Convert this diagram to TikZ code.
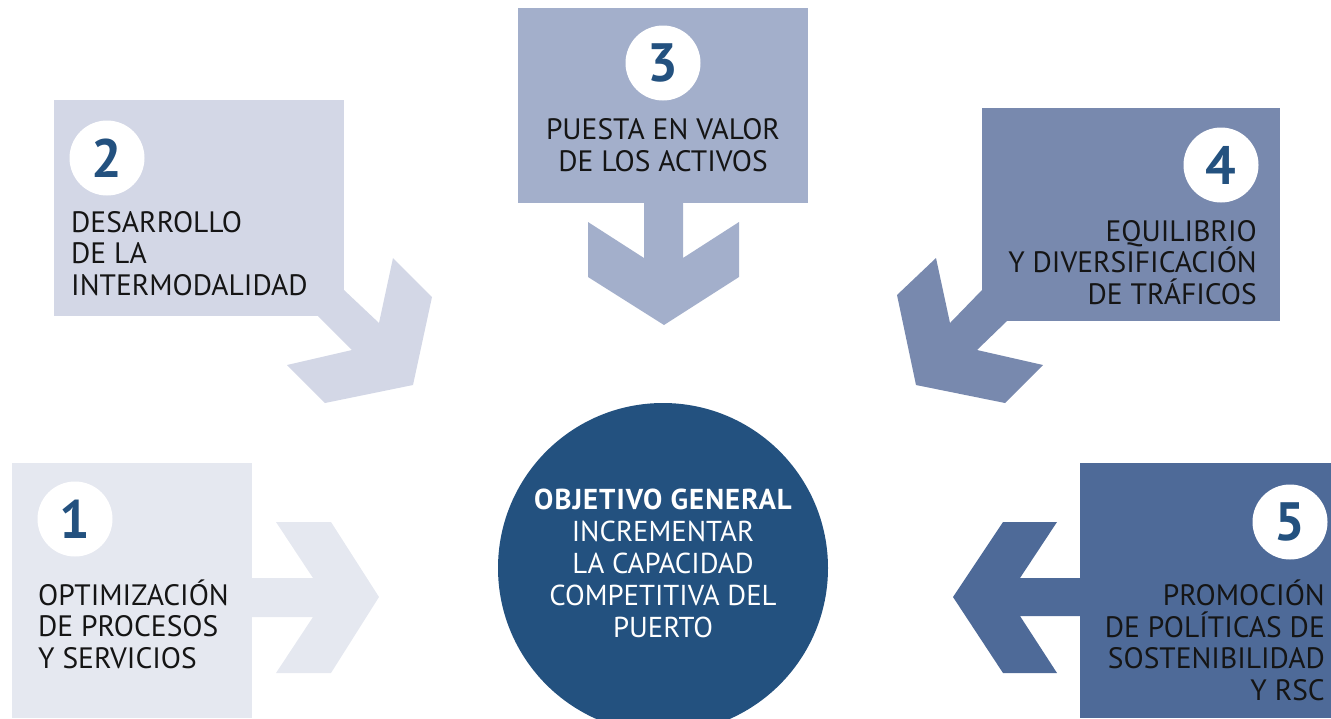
\documentclass[tikz,border=0pt]{standalone}
\usepackage{fontspec}
\setmainfont{PT Sans}
\definecolor{tone1}{HTML}{E5E8F0}
\definecolor{tone2}{HTML}{D3D7E6}
\definecolor{tone3}{HTML}{A3AFCB}
\definecolor{tone4}{HTML}{7889AE}
\definecolor{tone5}{HTML}{4E6A98}
\definecolor{hubblue}{HTML}{23517F}
\definecolor{ink}{HTML}{151515}
\tikzset{
  panel/.style={anchor=north west, inner sep=0pt, outer sep=0pt},
  badge/.style={circle, fill=white, minimum size=75pt, inner sep=0pt,
    text=hubblue, font=\bfseries\fontsize{54}{54}\selectfont},
  label/.style={inner sep=0pt, text=ink, font=\fontsize{29.5}{31.5}\selectfont}
}

\begin{document}
\begin{tikzpicture}[x=1pt, y=-1pt]
  \useasboundingbox (0,0) rectangle (1331,718);
  \clip (0,0) rectangle (1331,718);
  % panels
  \node[panel, fill=tone1, minimum width=240pt, minimum height=255pt] (p1) at (12,463) {};
  \node[panel, fill=tone2, minimum width=290pt, minimum height=216pt] (p2) at (54,100) {};
  \node[panel, fill=tone3, minimum width=290pt, minimum height=195pt] (p3) at (518,8) {};
  \node[panel, fill=tone4, minimum width=298pt, minimum height=213pt] (p4) at (982,108) {};
  \node[panel, fill=tone5, minimum width=251pt, minimum height=255pt] (p5) at (1080,463) {};
  % arrows
  \fill[tone1] (252,578) -- (313,578) -- (276,522) -- (331,522) -- (379,597)
    -- (331,673) -- (276,673) -- (313,617) -- (252,617) -- cycle;
  \fill[tone2] (344,290) -- (379,323) -- (393,258) -- (432,297) -- (413,385)
    -- (325,403) -- (287,365) -- (352,350) -- (318,316) -- (344,316) -- cycle;
  \fill[tone3] (644,203) -- (644,258) -- (588,222) -- (588,277) -- (664,325)
    -- (739,277) -- (739,222) -- (683,258) -- (683,203) -- cycle;
  \fill[tone4] (982,290) -- (950,323) -- (936,258) -- (897,295) -- (916,385)
    -- (1005,403) -- (1043,365) -- (977,350) -- (1007,321) -- (982,321) -- cycle;
  \fill[tone5] (1080,578) -- (1020,578) -- (1057,522) -- (1003,522) -- (953,597)
    -- (1003,673) -- (1057,673) -- (1020,616) -- (1080,616) -- cycle;
  % numbers
  \node[badge] (n1) at (75,519) {1};
  \node[badge] (n2) at (107,158) {2};
  \node[badge] (n3) at (663,63) {3};
  \node[badge] (n4) at (1221,165) {4};
  \node[badge] (n5) at (1290,522) {5};
  % texts (base = last line)
  \node[label, anchor=base west, align=left] (t1) at (38,668)
    {OPTIMIZACIÓN\\DE PROCESOS\\Y SERVICIOS};
  \node[label, anchor=base west, align=left] (t2) at (71,295)
    {DESARROLLO\\DE LA\\INTERMODALIDAD};
  \node[label, anchor=base, align=center] (t3) at (663,171)
    {PUESTA EN VALOR\\DE LOS ACTIVOS};
  \node[label, anchor=base east, align=right] (t4) at (1257,304)
    {EQUILIBRIO\\Y DIVERSIFICACIÓN\\DE TRÁFICOS};
  \node[label, anchor=base east, align=right] (t5) at (1325,700)
    {PROMOCIÓN\\DE POLÍTICAS DE\\SOSTENIBILIDAD\\Y RSC};
  % centre
  \node[circle, fill=hubblue, minimum size=330pt, inner sep=0pt] (hub) at (663,568) {};
  \node[label, text=white, anchor=base, align=center, font=\fontsize{28.8}{32}\selectfont] (goal) at (663,637)
    {{\bfseries\addfontfeature{LetterSpace=3.5}OBJETIVO GENERAL}\\INCREMENTAR\\LA CAPACIDAD\\COMPETITIVA DEL\\PUERTO};
\end{tikzpicture}
\end{document}
